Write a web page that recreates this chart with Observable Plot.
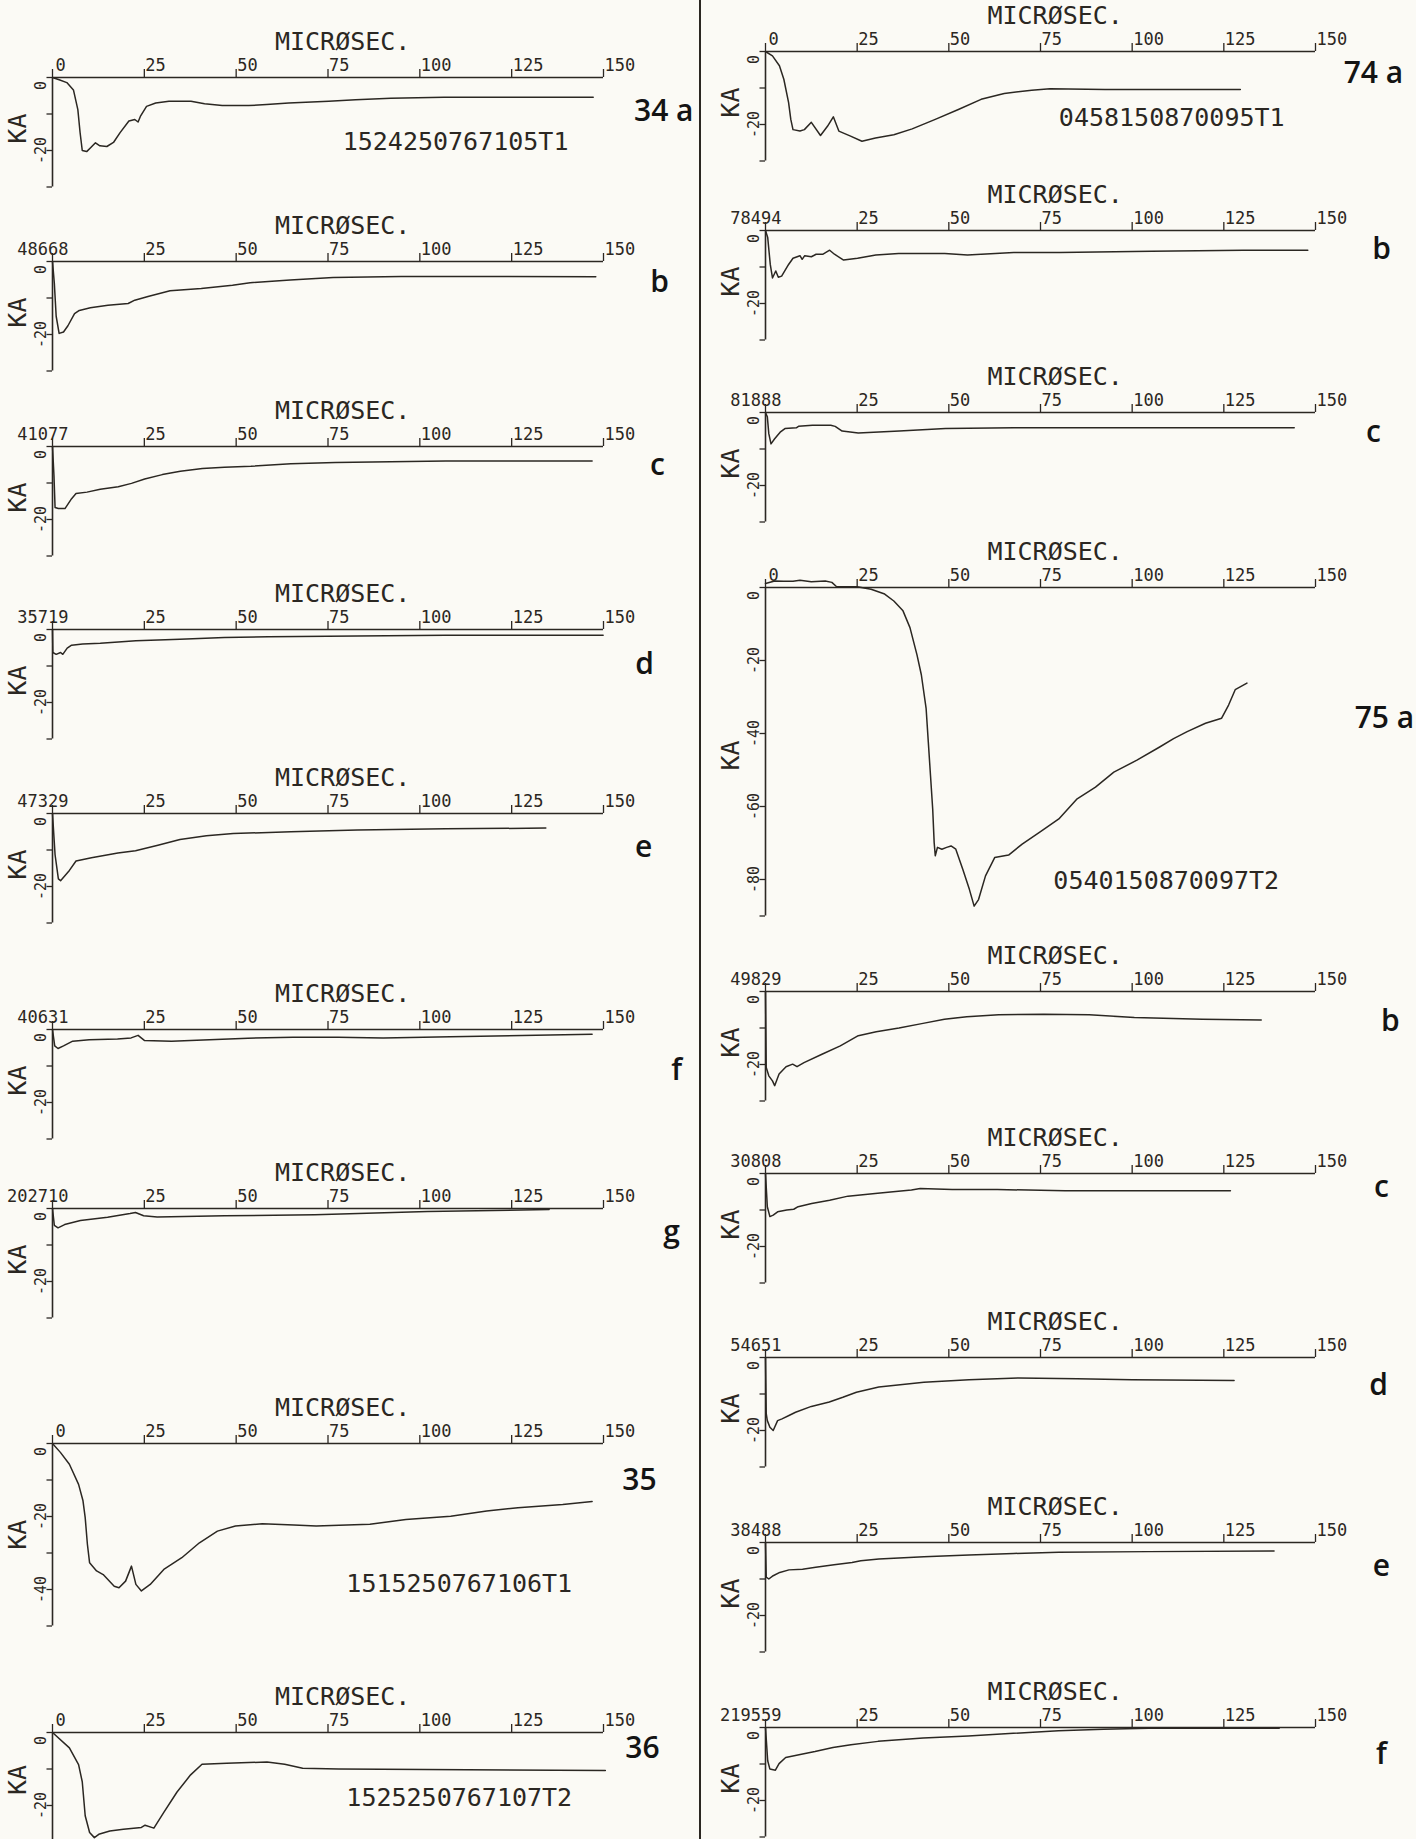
<!DOCTYPE html>
<html><head><meta charset="utf-8">
<script src="https://cdn.jsdelivr.net/npm/d3@7"></script>
<script src="https://cdn.jsdelivr.net/npm/@observablehq/plot@0.6"></script>
<style>
html,body{margin:0;padding:0;background:#fbfaf5;}
#page{position:relative;width:1416px;height:1839px;overflow:hidden;background:#fbfaf5;}
#divider{position:absolute;left:699px;top:0;width:2px;height:1839px;background:#2b2722;}
</style></head><body><div id="page"><div id="divider"></div></div>
<script>
// ---------- DATA (time in microseconds, current in kA) ----------
const panelKeys   = ["34a","34b","34c","34d","34e","34f","34g","35","36","74a","74b","74c","75a","75b","75c","75d","75e","75f"];
const panelLabels = ["34 a","b","c","d","e","f","g","35","36","74 a","b","c","75 a","b","c","d","e","f"];
const startLabels = ["0","48668","41077","35719","47329","40631","202710","0","0","0","78494","81888","0","49829","30808","54651","38488","219559"];
const runCodes    = ["1524250767105T1",null,null,null,null,null,null,"1515250767106T1","1525250767107T2","0458150870095T1",null,null,"0540150870097T2",null,null,null,null,null];
const yAxisMin    = [-30,-30,-30,-30,-30,-30,-30,-50,-30,-30,-30,-30,-90,-30,-30,-30,-30,-30];
const xTickValues = [0,25,50,75,100,125,150];
const axisTitle   = "MICRØSEC.";
const unitTitle   = "KA";

const t34a = [0,2,3.9,5.7,6.9,7.5,8.1,9.3,10.5,11.7,12.9,14.8,16.6,18.4,20.8,22.4,23.3,24,25.6,28.1,31.7,37.7,41.4,46.2,53.4,58.3,64.3,75.2,82.5,92.1,106.6,130.8,147.2];
const i34a = [0,-0.7,-1.4,-3.4,-8.8,-15,-20,-20.3,-19.1,-17.9,-18.7,-18.9,-17.8,-15.1,-11.9,-11.5,-12.2,-10.5,-7.9,-7,-6.5,-6.5,-7.2,-7.7,-7.7,-7.4,-7,-6.5,-6.1,-5.7,-5.4,-5.4,-5.4];
const t34b = [0,0.5,1.0,1.8,3,4.2,6,7.3,10.3,15.1,20.6,22.4,26,32,40.5,49,53.8,64.7,76.4,94.9,119,147.9];
const i34b = [0,-6,-15,-19.7,-19.3,-17.6,-14.3,-13.4,-12.7,-12,-11.5,-10.6,-9.6,-8,-7.4,-6.5,-5.8,-5.1,-4.4,-4.1,-4.1,-4.2];
const t34c = [0,0.4,0.7,1.6,3.4,5.2,6.4,9.4,13,17.9,21.5,25.1,29.9,34.8,40.8,46.8,54,64.9,77,107.1,146.9];
const i34c = [0,-8,-16.7,-17,-17,-14.3,-12.9,-12.5,-11.7,-11,-10.1,-8.9,-7.7,-6.8,-6,-5.7,-5.4,-4.7,-4.4,-4,-4];
const t34d = [0,0.1,1,2.2,2.8,4,5.2,8.2,13,17.9,22.7,34.7,46.8,58.8,82.9,107,149.9];
const i34d = [0,-6.3,-6.8,-6.3,-6.8,-5.1,-4.3,-4,-3.8,-3.4,-3.1,-2.7,-2.2,-2,-1.8,-1.6,-1.6];
const t34e = [0,0.7,1.6,2.2,4.6,6.4,10.6,17.8,22.6,28.7,34.7,41.9,49.2,64.9,83,107.1,134.3];
const i34e = [0,-11.3,-17.9,-18.4,-15.6,-13,-12.1,-10.8,-10.2,-8.7,-7.1,-6.1,-5.5,-5,-4.5,-4.2,-4];
const t34f = [0,0.6,1.5,3,5.5,10,17.7,21.4,23.3,25,32.4,41,53.2,65.5,77.7,90,108.3,146.9];
const i34f = [0,-4.5,-5.2,-4.5,-3.2,-2.8,-2.6,-2.3,-1.6,-3,-3.2,-2.9,-2.4,-2.1,-2.1,-2.3,-2,-1.3];
const t34g = [0,0.5,1.5,3.3,7.6,15,21.1,22.6,24.8,28.5,46.9,71.4,102.1,135.2];
const i34g = [0,-4.6,-5.3,-4.4,-3.3,-2.4,-1.4,-1.1,-2,-2.3,-2,-1.7,-0.8,-0.3];
const t35  = [0,2.2,4.6,7.1,8.3,8.9,9.5,10.1,12,13.8,16.8,18.1,19.9,21.5,22.7,24.2,26.6,30.3,35.2,40,44.9,49.8,57.1,65.7,71.8,86.4,96.2,108.4,118.2,126.7,138.9,146.9];
const i35  = [0,-2.5,-5.7,-11.2,-15.7,-20.3,-27.6,-32.7,-34.9,-35.9,-39.1,-39.5,-37.7,-33.6,-38.6,-40.4,-38.6,-34.5,-31.3,-27.2,-24,-22.6,-22,-22.3,-22.6,-22.1,-20.8,-19.9,-18.5,-17.6,-16.7,-15.9];
const t36  = [0,4.6,7.1,8.1,8.9,10.1,11.4,12.6,15.6,19.3,24.2,25.2,27.6,30.3,33.9,37.6,40.7,47.4,58.4,63.2,68.1,77.9,150.5];
const i36  = [0,-4.2,-8.8,-13.5,-22.8,-27.4,-28.8,-27.9,-27,-26.5,-26,-25.4,-26.2,-21.9,-16.3,-11.6,-8.7,-8.4,-8.1,-8.7,-9.8,-10,-10.4];
const t74a = [0,1.9,3.8,5,6.3,6.9,7.5,9.4,10.6,12.5,15,16.9,18.5,20,23.2,26.3,30,35,40,46.3,52.6,58.8,65.1,72.6,77.6,92.6,129.5];
const i74a = [0,-1.2,-3.9,-7.6,-14,-18.6,-21.4,-21.8,-21.4,-19.4,-23,-20.5,-17.9,-21.8,-23.2,-24.6,-23.7,-22.8,-21.2,-18.6,-15.9,-13.1,-11.5,-10.6,-10.2,-10.4,-10.4];
const t74b = [0,0.6,1.3,1.9,2.8,3.5,4.4,6.3,7.5,9.4,10,10.7,12.5,13.8,15.7,17.5,18.8,21.3,25.1,30.1,36.3,48.9,55.1,67.7,80.2,105.3,130.3,147.9];
const i74b = [0,-1.9,-9.3,-13,-11.1,-12.8,-12.5,-9.3,-7.6,-6.9,-7.9,-6.9,-7.2,-6.5,-6.5,-5.4,-6.5,-8.1,-7.6,-6.7,-6.3,-6.3,-6.7,-6,-6,-5.7,-5.4,-5.4];
const t74c = [0,0.5,0.9,1.5,2.5,4,5.3,8.4,9,12.8,17.8,19,20.9,25.3,36.5,49.1,67.8,92.9,144.2];
const i74c = [0,-1.2,-5.8,-8.6,-7.2,-5.4,-4.4,-4.2,-3.8,-3.5,-3.5,-3.8,-5.1,-5.6,-5.1,-4.4,-4.2,-4.2,-4.2];
const t75a = [0,2.5,5,7.5,9.4,12.5,16.3,18.1,19.4,25,28.8,32.5,35,37.5,39.4,41.3,42.5,43.8,44.4,45,45.6,46,46.3,46.9,48.1,49.4,50.6,51.9,53.8,55.6,56.9,58.1,60,62.5,66.3,70,75,80,85,90,95,101.3,107.5,111.3,115,120,124.4,126.3,128.1,131.3];
const i75a = [1.1,1.8,1.7,1.7,2,1.6,1.8,1.4,0.2,0.2,-0.5,-1.8,-3.7,-6.4,-11,-18.4,-23.9,-33.1,-42.3,-51.5,-60.7,-69.9,-73.5,-71.2,-71.7,-71.2,-70.8,-71.7,-77.2,-82.7,-87.3,-85.5,-79,-74,-73.3,-70.3,-66.9,-63.4,-57.9,-54.7,-50.6,-47.3,-43.7,-41.4,-39.5,-37.2,-35.8,-32.2,-28,-26.2];
const t75b = [0,0.2,0.9,1.9,2.5,3.7,5.6,7.4,8.6,10.5,15.4,20.4,25.3,30.2,36.4,42.6,48.8,54.9,63.6,75.9,88.3,100.6,119.1,135.2];
const i75b = [0,-20.8,-23.1,-24.5,-25.8,-22.6,-20.6,-19.9,-20.6,-19.5,-17.2,-14.9,-12.1,-11,-10,-8.8,-7.6,-6.9,-6.4,-6.2,-6.4,-7.1,-7.6,-7.8];
const t75c = [0,0.5,1.2,2.1,3.3,5.8,7.7,8.9,12.6,17.5,22.5,29.9,34.8,39.8,42.2,50.9,63.2,81.7,106.4,126.8];
const i75c = [0,-9.1,-11.8,-11.4,-10.5,-10,-9.8,-9.1,-8.2,-7.3,-6.2,-5.5,-5,-4.5,-4.1,-4.4,-4.4,-4.7,-4.7,-4.7];
const t75d = [0,0.2,0.5,1.2,2.1,3.3,4.5,6.4,8.2,12.5,17.4,21.1,24.8,30.9,43.2,55.5,69,85,100,127.8];
const i75d = [0,-15.4,-17.3,-19.1,-20,-17.3,-16.8,-15.9,-15,-13.4,-12.2,-10.9,-9.5,-8.1,-6.8,-6.1,-5.6,-5.8,-6.1,-6.3];
const t75e = [0,0.2,0.9,2.1,3.9,6.4,10.1,13.7,18.7,23.6,26,30.9,43.2,55.5,67.7,80,104.5,138.7];
const i75e = [0,-9.5,-10,-9.1,-8.2,-7.5,-7.3,-6.8,-6.1,-5.5,-5,-4.5,-3.9,-3.4,-3,-2.7,-2.5,-2.3];
const t75f = [0,0.6,1.2,2.7,3.7,5.5,9.8,13.5,18.4,23.3,30.7,43,55.3,67.6,79.9,92.2,104.5,140.1];
const i75f = [0,-9.1,-11.4,-11.7,-9.9,-8.2,-7.3,-6.6,-5.5,-4.7,-3.8,-2.9,-2.3,-1.6,-0.9,-0.5,-0.2,-0.2];

const times    = [t34a,t34b,t34c,t34d,t34e,t34f,t34g,t35,t36,t74a,t74b,t74c,t75a,t75b,t75c,t75d,t75e,t75f];
const currents = [i34a,i34b,i34c,i34d,i34e,i34f,i34g,i35,i36,i74a,i74b,i74c,i75a,i75b,i75c,i75d,i75e,i75f];

// ---------- LAYOUT (page placement, label anchors) ----------
const layout = [
  {col:0, axisY:77,   kaY:-14, code:[79,-19.8],   lab:[166.4,-9.3]},
  {col:0, axisY:261,  kaY:-14, code:null,         lab:[165.3,-5.8]},
  {col:0, axisY:446,  kaY:-14, code:null,         lab:[164.7,-5.2]},
  {col:0, axisY:629,  kaY:-14, code:null,         lab:[161.2,-9.6]},
  {col:0, axisY:813,  kaY:-14, code:null,         lab:[160.9,-9.3]},
  {col:0, axisY:1029, kaY:-14, code:null,         lab:[169.9,-11.2]},
  {col:0, axisY:1208, kaY:-14, code:null,         lab:[168.5,-6.6]},
  {col:0, axisY:1443, kaY:-25, code:[80,-40.8],   lab:[159.8,-10.1]},
  {col:0, axisY:1732, kaY:-13, code:[80,-20],     lab:[160.6,-4.4]},
  {col:1, axisY:51,   kaY:-14, code:[80,-20.5],   lab:[165.8,-6]},
  {col:1, axisY:230,  kaY:-14, code:null,         lab:[168,-5.2]},
  {col:1, axisY:412,  kaY:-14, code:null,         lab:[165.8,-5.5]},
  {col:1, axisY:587,  kaY:-46, code:[78.5,-82.5], lab:[168.8,-35.9]},
  {col:1, axisY:991,  kaY:-14, code:null,         lab:[170.4,-8.2]},
  {col:1, axisY:1173, kaY:-14, code:null,         lab:[168,-3.8]},
  {col:1, axisY:1357, kaY:-14, code:null,         lab:[167.2,-7.7]},
  {col:1, axisY:1542, kaY:-14, code:null,         lab:[168,-6.6]},
  {col:1, axisY:1727, kaY:-14, code:null,         lab:[168,-7.4]}
];

const INK = "#2b2722";
const MONO = "DejaVu Sans Mono, monospace";
const SANS = "Open Sans, Liberation Sans, sans-serif";
const PX_PER_KA = 3.65;
const TOP = 58;
const page = document.getElementById("page");

function drawPanel(i) {
  const L = layout[i];
  const left = L.col === 0 ? 0 : 700;
  const width = L.col === 0 ? 700 : 716;
  const xr = L.col === 0 ? [52, 603] : [65, 615];
  const ymin = yAxisMin[i];
  const depth = -ymin * PX_PER_KA;
  const height = TOP + depth + 40;
  const data = times[i].map((t, j) => ({t, a: currents[i][j]}));
  const yTicks = d3.range(0, ymin - 0.01, ymin < -60 ? -20 : -10);
  if (yTicks[yTicks.length - 1] !== ymin) yTicks.push(ymin);
  const yLabels = d3.range(-20, ymin + 0.01 - 10, -20).filter(v => v > ymin);
  const start = startLabels[i];
  const isZero = start === "0";
  const marks = [
    Plot.ruleY([0], {x1: 0, x2: 150, stroke: INK, strokeWidth: 1.6}),
    Plot.ruleX([0], {y1: 0, y2: ymin, stroke: INK, strokeWidth: 1.6}),
    Plot.ruleX(xTickValues, {x: d => d, y1: 0, y2: 2.2, stroke: INK, strokeWidth: 1.3}),
    Plot.ruleY(yTicks, {y: d => d, x1: 0, x2: -1.5, stroke: INK, strokeWidth: 1.3}),
    Plot.text(xTickValues.slice(1), {x: d => d, y: 0, text: d => String(d), textAnchor: "start", dx: 1, dy: -12, fontSize: 17, fontFamily: MONO}),
    Plot.text([start], {x: 0, y: 0, text: d => d, textAnchor: isZero ? "start" : "end", dx: isZero ? 3 : 16, dy: -12, fontSize: 17, fontFamily: MONO}),
    Plot.text([axisTitle], {x: 79, y: 0, text: d => d, dy: -36, fontSize: 25, fontFamily: MONO}),
    Plot.text(yLabels, {x: 0, y: d => d, text: d => String(d), rotate: -90, dx: -11, fontSize: 15, fontFamily: MONO}),
    Plot.text([0], {x: 0, y: 0, text: d => String(d), rotate: -90, dx: -11, dy: 8, fontSize: 15, fontFamily: MONO}),
    Plot.text([unitTitle], {x: 0, y: L.kaY, text: d => d, rotate: -90, dx: -35, fontSize: 25, fontFamily: MONO}),
    Plot.line(data, {x: "t", y: "a", stroke: INK, strokeWidth: 1.5, strokeLinejoin: "round"}),
    Plot.text([panelLabels[i]], {x: L.lab[0], y: L.lab[1], text: d => d, fontSize: 30, fontWeight: 600, fontFamily: SANS, fill: "#141414"})
  ];
  if (runCodes[i]) {
    marks.push(Plot.text([runCodes[i]], {x: L.code[0], y: L.code[1], text: d => d, textAnchor: "start", lineAnchor: "bottom", fontSize: 25, fontFamily: MONO}));
  }
  const svg = Plot.plot({
    width, height, margin: 0,
    x: {domain: [0, 150], range: xr, axis: null},
    y: {domain: [0, ymin], range: [TOP, TOP + depth], axis: null},
    style: {background: "transparent", overflow: "visible", color: INK, fontFamily: MONO},
    marks
  });
  svg.style.position = "absolute";
  svg.style.left = left + "px";
  svg.style.top = (L.axisY - TOP) + "px";
  page.appendChild(svg);
}
panelKeys.forEach((k, i) => drawPanel(i));
</script>
</body></html>
